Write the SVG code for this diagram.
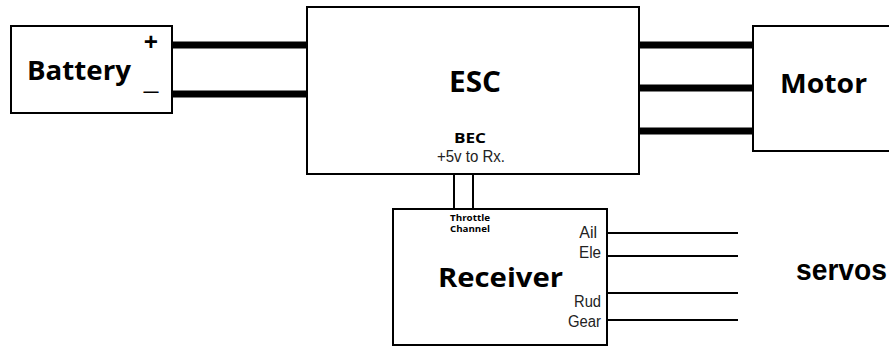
<svg xmlns="http://www.w3.org/2000/svg" width="889" height="347" viewBox="0 0 889 347">
<style>
.box{fill:#fff;stroke:#000;stroke-width:2}
.thick{stroke:#000;stroke-width:7;fill:none}
.thin{stroke:#000;stroke-width:2;fill:none}
text{fill:#000;font-family:"Open Sans","DejaVu Sans",sans-serif;font-weight:bold}
.sm{font-family:"Liberation Sans",Arial,sans-serif;font-weight:normal;font-size:16px;fill:#222}
.tiny{font-size:8.5px}
</style>
<rect width="889" height="347" fill="#fff"/>
<g id="connectors">
<path class="thick" d="M172 45H307M172 94H307M639 45H753M639 88H753M639 131H753"/>
<path class="thin" d="M454 173V209M473 173V209M607 233H738M607 256H738M607 293H738M607 320H738"/>
</g>
<g id="battery">
<rect class="box" x="11" y="26" width="161" height="87"/>
<text x="27" y="80" font-size="26" textLength="104" lengthAdjust="spacingAndGlyphs">Battery</text>
<text x="151" y="51" text-anchor="middle" font-size="25">+</text>
<text x="151" y="89" text-anchor="middle" font-size="24" textLength="15" lengthAdjust="spacingAndGlyphs">_</text>
</g>
<g id="esc">
<rect class="box" x="307" y="7" width="332" height="167"/>
<text x="449" y="92" font-size="28" textLength="52" lengthAdjust="spacingAndGlyphs">ESC</text>
<text x="454" y="143" font-size="15" textLength="32" lengthAdjust="spacingAndGlyphs">BEC</text>
<text class="sm" x="437" y="162" textLength="68" lengthAdjust="spacingAndGlyphs">+5v to Rx.</text>
</g>
<g id="motor">
<rect class="box" x="753" y="26" width="140" height="125"/>
<text x="780" y="93" font-size="27" textLength="87" lengthAdjust="spacingAndGlyphs">Motor</text>
</g>
<g id="receiver">
<rect class="box" x="393" y="209" width="214" height="136"/>
<text class="tiny" x="450" y="220.500" textLength="40" lengthAdjust="spacingAndGlyphs">Throttle</text>
<text class="tiny" x="450" y="232" textLength="40" lengthAdjust="spacingAndGlyphs">Channel</text>
<text x="438" y="287" font-size="27" textLength="125" lengthAdjust="spacingAndGlyphs">Receiver</text>
<text class="sm" x="597" y="238" text-anchor="end">Ail</text>
<text class="sm" x="601" y="258" text-anchor="end" textLength="22" lengthAdjust="spacingAndGlyphs">Ele</text>
<text class="sm" x="601" y="307" text-anchor="end" textLength="27" lengthAdjust="spacingAndGlyphs">Rud</text>
<text class="sm" x="601" y="327" text-anchor="end" textLength="33" lengthAdjust="spacingAndGlyphs">Gear</text>
</g>
<g id="servos">
<text x="796" y="280" font-size="29" style="font-family:'Liberation Sans',Arial,sans-serif" textLength="91" lengthAdjust="spacingAndGlyphs">servos</text>
</g>
</svg>
